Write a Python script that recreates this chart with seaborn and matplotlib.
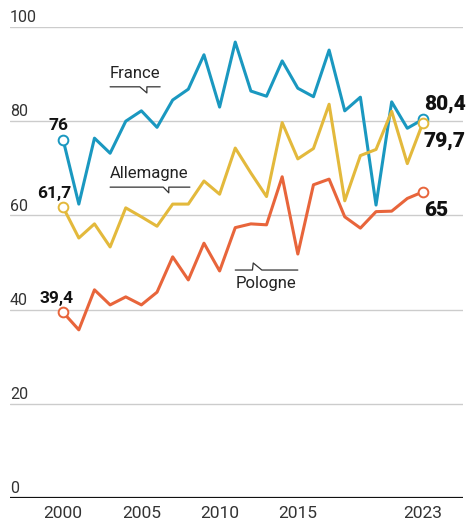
import pandas as pd
import matplotlib
matplotlib.use('Agg')
import matplotlib.pyplot as plt
import matplotlib.transforms as mtransforms
import seaborn as sns

years = list(range(2000, 2024))
france = [76, 62.4, 76.4, 73.2, 80.0, 82.2, 78.7, 84.5, 86.8, 94.1, 83.0, 96.8,
          86.4, 85.3, 92.8, 87.0, 85.2, 95.1, 82.2, 85.1, 62.2, 84.1, 78.5, 80.4]
allemagne = [61.7, 55.2, 58.2, 53.3, 61.6, 59.7, 57.7, 62.4, 62.4, 67.3, 64.5, 74.3,
             69.0, 64.0, 79.7, 72.0, 74.2, 83.6, 63.1, 72.7, 74.0, 82.1, 71.0, 79.7]
pologne = [39.4, 35.7, 44.2, 41.0, 42.7, 41.0, 43.7, 51.2, 46.3, 54.1, 48.2, 57.4,
           58.2, 58.0, 68.2, 51.8, 66.5, 67.7, 59.7, 57.3, 60.8, 60.9, 63.6, 65.0]
pays = ['France', 'Allemagne', 'Pologne']
couleurs = {'France': '#1a98c0', 'Allemagne': '#e3b93c', 'Pologne': '#e8653b'}
y_ticks = [0, 20, 40, 60, 80, 100]
x_ticks = [2000, 2005, 2010, 2015, 2023]

df = pd.DataFrame({'annee': years * 3,
                   'valeur': france + allemagne + pologne,
                   'pays': [p for p in pays for _ in years]})

sns.set_style('white')
plt.rcParams['font.family'] = ['Roboto', 'DejaVu Sans']

fig = plt.figure(figsize=(4.7, 5.19), dpi=100)
ax = fig.add_axes([10 / 470, 21 / 519, 453 / 470, 471 / 519])

sns.lineplot(data=df, x='annee', y='valeur', hue='pays', palette=couleurs,
             linewidth=2.2, legend=False, ax=ax, zorder=3)

# points ouverts aux extremites
ends = df[df['annee'].isin([2000, 2023])]
for p in pays:
    sub = ends[ends['pays'] == p]
    ax.plot(sub['annee'], sub['valeur'], 'o', ms=7, mfc='white',
            mec=couleurs[p], mew=1.4, zorder=4, clip_on=False)

ax.set_xlim(1996.6, 2025.56)
ax.set_ylim(0, 100)

# grille
for t in y_ticks[1:]:
    ax.axhline(t, color='#cccccc', lw=1, zorder=1)
ax.axhline(0, color='#111111', lw=1.6, zorder=2)

trans = mtransforms.blended_transform_factory(ax.transAxes, ax.transData)
for t in y_ticks:
    ax.text(0, t + 1.0, str(t), transform=trans, ha='left', va='baseline',
            fontsize=11.5, color='#333333')

ax.set_xticks(x_ticks)
ax.set_xticklabels([str(x) for x in x_ticks], fontsize=12.5, color='#333333')
ax.tick_params(axis='x', length=0, pad=6)
ax.set_yticks([])
ax.set_xlabel('')
ax.set_ylabel('')
for s in ax.spines.values():
    s.set_visible(False)

# valeurs de debut et de fin
def fmt(v):
    return ('%g' % v).replace('.', ',')

ax.text(1999.7, france[0] + 3.1, fmt(france[0]), ha='center', va='center',
        fontsize=12.5, fontweight='bold', color='#111111')
ax.text(1999.4, allemagne[0] + 3.0, fmt(allemagne[0]), ha='center', va='center',
        fontsize=12.5, fontweight='bold', color='#111111')
ax.text(1999.6, pologne[0] + 3.0, fmt(pologne[0]), ha='center', va='center',
        fontsize=12.5, fontweight='bold', color='#111111')
ax.text(2023.05, france[-1] + 3.3, fmt(france[-1]), ha='left', va='center',
        fontsize=15, fontweight='heavy', color='#111111')
ax.text(2023.05, allemagne[-1] - 3.9, fmt(allemagne[-1]), ha='left', va='center',
        fontsize=15, fontweight='heavy', color='#111111')
ax.text(2023.05, pologne[-1] - 3.9, fmt(pologne[-1]), ha='left', va='center',
        fontsize=15, fontweight='heavy', color='#111111')

# etiquettes des series avec bulle
lc = '#333333'
ax.text(2003.0, 90.2, 'France', ha='left', va='center', fontsize=12, color='#222222')
ax.plot([2003.0, 2004.9, 2005.35, 2005.35, 2006.2], [87.3, 87.3, 86.0, 87.3, 87.3],
        color=lc, lw=0.9)
ax.text(2003.0, 69.0, 'Allemagne', ha='left', va='center', fontsize=12, color='#222222')
ax.plot([2003.0, 2006.4, 2006.75, 2006.75, 2008.1], [66.0, 66.0, 64.8, 66.0, 66.0],
        color=lc, lw=0.9)
ax.text(2011.0, 45.6, 'Pologne', ha='left', va='center', fontsize=12, color='#222222')
ax.plot([2011.0, 2012.1, 2012.15, 2012.7, 2015.0], [48.4, 48.4, 49.9, 48.4, 48.4],
        color=lc, lw=0.9)

fig.savefig('out.png', dpi=100)
